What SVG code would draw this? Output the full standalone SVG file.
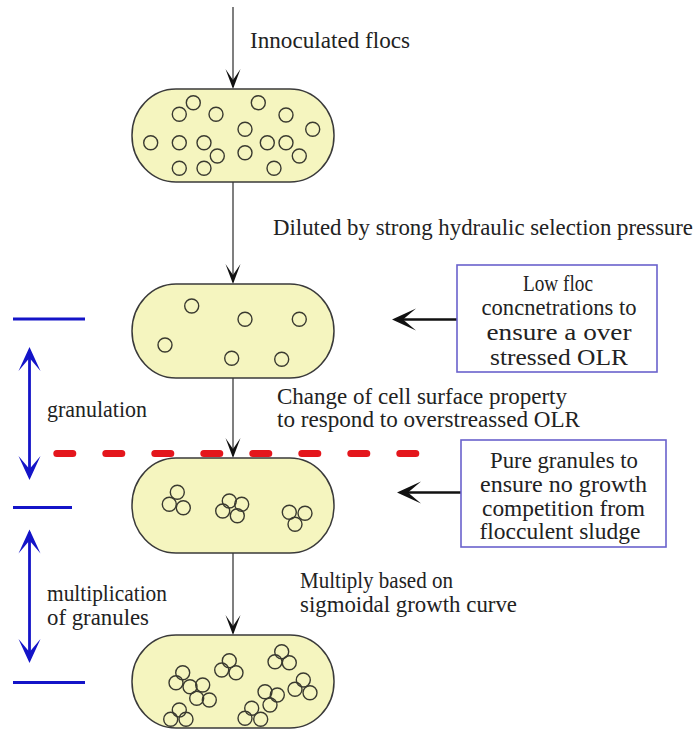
<svg xmlns="http://www.w3.org/2000/svg" width="698" height="731" viewBox="0 0 698 731">
<defs>
<style>
.pill{fill:#f5f5bf;stroke:#3a3a3a;stroke-width:1.5}
.c{fill:none;stroke:#3a3a30;stroke-width:1.4}
.t{font-family:"Liberation Serif","Times New Roman",serif;font-size:22.5px;fill:#222}
.bt{font-family:"Liberation Serif","Times New Roman",serif;font-size:22.5px;fill:#222;text-anchor:middle}
.box{fill:#fff;stroke:#6a62cc;stroke-width:1.6}
.flow{stroke:#555;stroke-width:1.5;fill:none;marker-end:url(#ah)}
.pt{stroke:#111;stroke-width:2.7;fill:none;marker-end:url(#bh)}
.blue{stroke:#1414c8;stroke-width:2.8;fill:none}
.barr{stroke:#1414c8;stroke-width:2.8;fill:none;marker-start:url(#uh);marker-end:url(#uh)}
</style>
<marker id="ah" markerUnits="userSpaceOnUse" markerWidth="26" markerHeight="20" viewBox="-22 -10 26 20" refX="0" refY="0" orient="auto">
<path d="M2,0 L-18,-7.5 L-7,0 L-18,7.5 Z" fill="#111"/>
</marker>
<marker id="bh" markerUnits="userSpaceOnUse" markerWidth="30" markerHeight="26" viewBox="-24 -13 30 26" refX="0" refY="0" orient="auto">
<path d="M4,0 L-20,-11 L-7,0 L-20,11 Z" fill="#111"/>
</marker>
<marker id="uh" markerUnits="userSpaceOnUse" markerWidth="30" markerHeight="26" viewBox="-24 -13 30 26" refX="0" refY="0" orient="auto-start-reverse">
<path d="M3,0 L-21,-11 L-8,0 L-21,11 Z" fill="#1414c8"/>
</marker>
</defs>
<rect width="698" height="731" fill="#fff"/>

<g id="connectors">
<line class="flow" x1="233" y1="7" x2="233" y2="87"/>
<line class="flow" x1="233" y1="182" x2="233" y2="282"/>
<line class="flow" x1="233" y1="378" x2="233" y2="456"/>
<line class="flow" x1="233" y1="553" x2="233" y2="633"/>
<line class="pt" x1="457" y1="319.5" x2="396" y2="319.5"/>
<line class="pt" x1="461" y1="492.5" x2="401" y2="492.5"/>
</g>

<g id="phase-markers">
<line class="blue" x1="13" y1="319" x2="85" y2="319"/>
<line class="blue" x1="13" y1="507.5" x2="72" y2="507.5"/>
<line class="blue" x1="13" y1="682.5" x2="85" y2="682.5"/>
<line class="barr" x1="29.5" y1="350" x2="29.5" y2="477"/>
<line class="barr" x1="29.5" y1="532.5" x2="29.5" y2="660"/>
<line x1="56.8" y1="453.5" x2="415.8" y2="453.5" stroke="#e4161c" stroke-width="7" stroke-linecap="round" stroke-dasharray="16 33"/>
</g>

<g id="pill1">
<rect class="pill" x="132" y="89" width="202" height="93" rx="44" ry="46"/>
<circle class="c" cx="193.3" cy="102.7" r="7"/>
<circle class="c" cx="179.3" cy="114.3" r="7"/>
<circle class="c" cx="216" cy="114.3" r="7"/>
<circle class="c" cx="258.3" cy="102.7" r="7"/>
<circle class="c" cx="286" cy="115" r="7"/>
<circle class="c" cx="245" cy="129.3" r="7"/>
<circle class="c" cx="312.7" cy="129.3" r="7"/>
<circle class="c" cx="150.7" cy="142.7" r="7"/>
<circle class="c" cx="179.3" cy="142.7" r="7"/>
<circle class="c" cx="204" cy="142.7" r="7"/>
<circle class="c" cx="217.3" cy="156" r="7"/>
<circle class="c" cx="245" cy="152.7" r="7"/>
<circle class="c" cx="267.3" cy="142.7" r="7"/>
<circle class="c" cx="286" cy="142.7" r="7"/>
<circle class="c" cx="299.3" cy="156" r="7"/>
<circle class="c" cx="179.3" cy="168.3" r="7"/>
<circle class="c" cx="204" cy="168.3" r="7"/>
<circle class="c" cx="274" cy="168.3" r="7"/>
</g>

<g id="pill2">
<rect class="pill" x="132" y="284" width="202" height="94" rx="44" ry="47"/>
<circle class="c" cx="191.7" cy="306" r="7"/>
<circle class="c" cx="245" cy="319.3" r="7"/>
<circle class="c" cx="299.3" cy="319.3" r="7"/>
<circle class="c" cx="165" cy="345" r="7"/>
<circle class="c" cx="231.7" cy="358.3" r="7"/>
<circle class="c" cx="281.7" cy="359.3" r="7"/>
</g>

<g id="pill3">
<rect class="pill" x="132" y="458" width="202" height="95" rx="44" ry="47"/>
<circle class="c" cx="177.3" cy="492.3" r="7"/>
<circle class="c" cx="169.3" cy="504.3" r="7"/>
<circle class="c" cx="183.3" cy="507.7" r="7"/>
<circle class="c" cx="229.3" cy="501" r="7"/>
<circle class="c" cx="241.7" cy="504.3" r="7"/>
<circle class="c" cx="222.7" cy="511" r="7"/>
<circle class="c" cx="237.3" cy="515.7" r="7"/>
<circle class="c" cx="289.3" cy="512.3" r="7"/>
<circle class="c" cx="305" cy="513.3" r="7"/>
<circle class="c" cx="295" cy="524.3" r="7"/>
</g>

<g id="pill4">
<rect class="pill" x="132" y="635" width="202" height="93" rx="44" ry="46"/>
<circle class="c" cx="229.3" cy="660.7" r="7"/>
<circle class="c" cx="221.7" cy="670" r="7"/>
<circle class="c" cx="236" cy="672.7" r="7"/>
<circle class="c" cx="281.7" cy="651.7" r="7"/>
<circle class="c" cx="275" cy="661.7" r="7"/>
<circle class="c" cx="289.3" cy="662.7" r="7"/>
<circle class="c" cx="182.7" cy="672.7" r="7"/>
<circle class="c" cx="176" cy="682.7" r="7"/>
<circle class="c" cx="190" cy="686.7" r="7"/>
<circle class="c" cx="202.7" cy="685" r="7"/>
<circle class="c" cx="196.7" cy="698.3" r="7"/>
<circle class="c" cx="209.3" cy="700" r="7"/>
<circle class="c" cx="303.3" cy="680" r="7"/>
<circle class="c" cx="295" cy="689.3" r="7"/>
<circle class="c" cx="310" cy="692.7" r="7"/>
<circle class="c" cx="265" cy="691.7" r="7"/>
<circle class="c" cx="277.3" cy="695" r="7"/>
<circle class="c" cx="270" cy="705" r="7"/>
<circle class="c" cx="179.3" cy="710" r="7"/>
<circle class="c" cx="170.7" cy="719.3" r="7"/>
<circle class="c" cx="186" cy="719.3" r="7"/>
<circle class="c" cx="251.7" cy="708.3" r="7"/>
<circle class="c" cx="245" cy="718.3" r="7"/>
<circle class="c" cx="260.7" cy="719.3" r="7"/>
</g>

<g id="box1">
<rect class="box" x="457" y="265" width="200" height="107"/>
<text class="bt" x="558" y="290.5" textLength="70" lengthAdjust="spacingAndGlyphs">Low floc</text>
<text class="bt" x="559" y="315" textLength="155" lengthAdjust="spacingAndGlyphs">concnetrations to</text>
<text class="bt" x="559" y="340" textLength="145" lengthAdjust="spacingAndGlyphs">ensure a over</text>
<text class="bt" x="559" y="364.5" textLength="138" lengthAdjust="spacingAndGlyphs">stressed OLR</text>
</g>

<g id="box2">
<rect class="box" x="461" y="440" width="205" height="107"/>
<text class="bt" x="564" y="468" textLength="148" lengthAdjust="spacingAndGlyphs">Pure granules to</text>
<text class="bt" x="563.5" y="492" textLength="167" lengthAdjust="spacingAndGlyphs">ensure no growth</text>
<text class="bt" x="563.5" y="516" textLength="163" lengthAdjust="spacingAndGlyphs">competition from</text>
<text class="bt" x="560" y="539" textLength="161" lengthAdjust="spacingAndGlyphs">flocculent sludge</text>
</g>

<g id="labels">
<text class="t" x="250" y="48" textLength="160" lengthAdjust="spacingAndGlyphs">Innoculated flocs</text>
<text class="t" x="273" y="235" textLength="420" lengthAdjust="spacingAndGlyphs">Diluted by strong hydraulic selection pressure</text>
<text class="t" x="277" y="403.5" textLength="290" lengthAdjust="spacingAndGlyphs">Change of cell surface property</text>
<text class="t" x="277" y="427" textLength="303" lengthAdjust="spacingAndGlyphs">to respond to overstreassed OLR</text>
<text class="t" x="300" y="588" textLength="153" lengthAdjust="spacingAndGlyphs">Multiply based on</text>
<text class="t" x="300" y="611.5" textLength="217" lengthAdjust="spacingAndGlyphs">sigmoidal growth curve</text>
<text class="t" x="47" y="417" textLength="100" lengthAdjust="spacingAndGlyphs">granulation</text>
<text class="t" x="47" y="601" textLength="120" lengthAdjust="spacingAndGlyphs">multiplication</text>
<text class="t" x="47" y="625" textLength="102" lengthAdjust="spacingAndGlyphs">of granules</text>
</g>
</svg>
